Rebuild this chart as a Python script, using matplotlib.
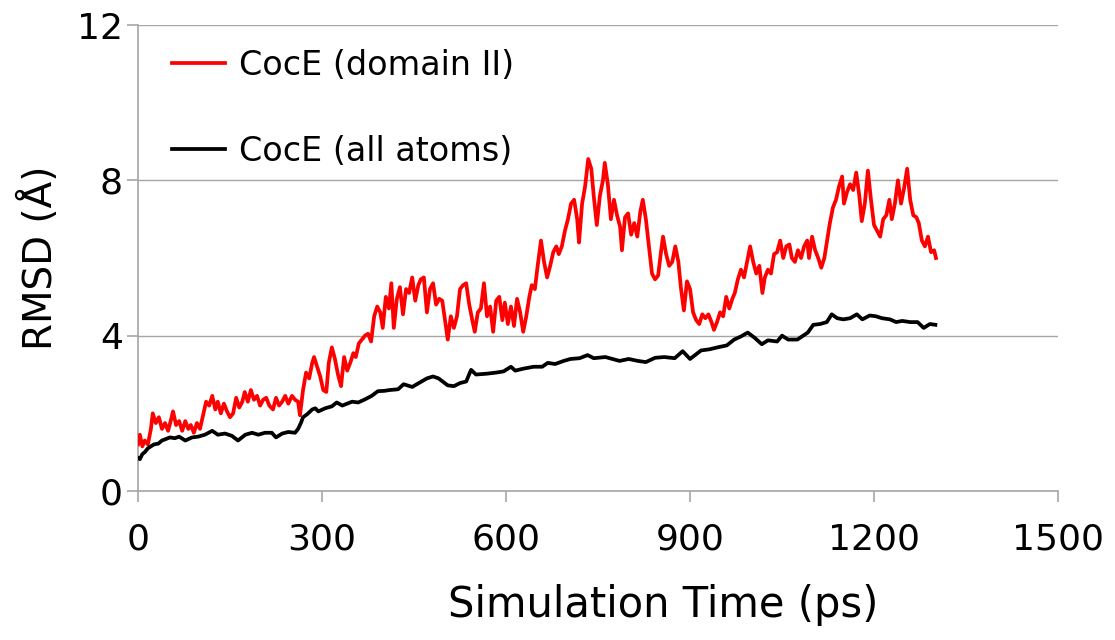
import matplotlib
matplotlib.use("Agg")
import matplotlib.pyplot as plt

plt.rcParams['font.family'] = ['DejaVu Sans']

red_t = [0, 3, 7, 11, 16, 21, 24, 29, 34, 39, 44, 49, 54, 57, 62, 67, 72, 77, 82, 86,
         91, 96, 101, 106, 111, 116, 121, 126, 130, 135, 140, 145, 150, 155, 160, 165,
         170, 174, 179, 184, 189, 194, 199, 204, 209, 214, 220, 225, 230, 235, 240, 245,
         251, 256, 261, 264, 269, 274, 279, 284, 287, 292, 297, 302, 307, 311, 316, 321,
         326, 331, 336, 341, 346, 351, 355, 360, 365, 370, 375, 380, 385, 390, 395, 399,
         404, 409, 413, 417, 422, 427, 432, 437, 442, 447, 452, 457, 461, 466, 471, 476,
         481, 486, 491, 496, 501, 505, 510, 515, 520, 525, 530, 535, 540, 545, 549, 554,
         559, 564, 569, 574, 579, 584, 589, 594, 598, 603, 608, 613, 618, 623, 628, 633,
         638, 642, 647, 652, 657, 662, 667, 672, 677, 682, 686, 691, 696, 701, 706, 711,
         716, 719, 724, 729, 734, 739, 743, 748, 753, 758, 761, 766, 771, 776, 781, 786,
         789, 794, 799, 804, 809, 814, 819, 823, 828, 833, 838, 843, 848, 853, 856, 861,
         866, 871, 876, 881, 885, 890, 895, 900, 905, 910, 915, 920, 925, 930, 935, 939,
         944, 949, 954, 959, 964, 969, 973, 978, 983, 988, 993, 998, 1003, 1008, 1013,
         1018, 1022, 1027, 1032, 1037, 1042, 1047, 1052, 1057, 1062, 1066, 1071, 1076,
         1081, 1086, 1091, 1094, 1099, 1104, 1109, 1114, 1119, 1123, 1128, 1133, 1138,
         1143, 1148, 1151, 1156, 1161, 1166, 1171, 1176, 1180, 1185, 1190, 1195, 1200,
         1205, 1210, 1215, 1220, 1225, 1229, 1234, 1239, 1244, 1249, 1254, 1259, 1264,
         1269, 1273, 1278, 1283, 1288, 1293, 1298, 1301]
red_v = [1.2, 1.45, 1.15, 1.3, 1.2, 1.6, 2.0, 1.75, 1.9, 1.6, 1.75, 1.55, 1.85, 2.05, 1.7,
         1.8, 1.55, 1.8, 1.6, 1.7, 1.5, 1.75, 1.6, 1.95, 2.3, 2.2, 2.45, 2.1, 2.3, 2.0,
         2.25, 2.05, 1.9, 2.0, 2.4, 2.15, 2.3, 2.55, 2.3, 2.6, 2.35, 2.45, 2.2, 2.35, 2.4,
         2.2, 2.1, 2.4, 2.2, 2.3, 2.45, 2.25, 2.45, 2.35, 2.3, 1.95, 2.6, 3.05, 2.9, 3.3,
         3.45, 3.2, 2.95, 2.6, 2.55, 3.3, 3.7, 3.4, 3.0, 2.7, 3.45, 3.1, 3.3, 3.55, 3.45,
         3.8, 3.9, 4.0, 4.05, 3.85, 4.5, 4.75, 4.6, 4.2, 5.0, 4.7, 5.35, 4.2, 4.95, 5.25,
         4.55, 5.2, 5.1, 5.5, 4.9, 5.3, 5.45, 5.5, 4.6, 5.2, 5.35, 4.8, 4.95, 4.9, 4.35,
         3.9, 4.5, 4.2, 4.5, 5.2, 5.3, 5.35, 4.8, 4.4, 4.1, 4.6, 4.7, 5.35, 4.5, 4.75, 4.1,
         4.9, 5.0, 4.4, 4.85, 4.3, 4.75, 4.25, 4.95, 4.6, 4.1, 4.5, 5.0, 5.3, 5.2, 5.85,
         6.45, 5.9, 5.5, 5.8, 6.15, 6.3, 6.1, 6.3, 6.7, 7.0, 7.4, 7.5, 7.0, 6.4, 7.4, 7.85,
         8.55, 8.3, 7.6, 6.85, 7.6, 8.0, 8.45, 7.9, 7.0, 7.5, 7.1, 6.8, 6.2, 7.05, 7.15,
         6.6, 6.9, 6.55, 7.2, 7.5, 7.0, 6.3, 5.6, 5.45, 5.55, 6.2, 6.55, 6.1, 5.8, 5.9, 6.3,
         5.9, 5.25, 4.65, 5.4, 5.2, 4.6, 4.4, 4.3, 4.55, 4.45, 4.55, 4.35, 4.15, 4.35, 4.6,
         4.5, 5.0, 4.7, 4.95, 5.1, 5.45, 5.7, 5.5, 5.9, 6.3, 5.9, 5.6, 5.8, 5.1, 5.5, 5.7,
         5.6, 6.1, 6.15, 6.45, 6.0, 6.3, 6.35, 6.0, 5.9, 6.2, 6.0, 6.3, 6.45, 6.0, 6.55,
         6.2, 6.0, 5.75, 6.0, 6.4, 6.9, 7.3, 7.5, 7.85, 8.1, 7.4, 7.7, 7.9, 7.75, 8.2, 7.6,
         6.95, 7.4, 8.25, 7.5, 6.85, 6.7, 6.55, 7.0, 7.1, 7.5, 7.0, 7.4, 8.0, 7.4, 7.8,
         8.3, 7.5, 7.1, 7.05, 6.9, 6.45, 6.3, 6.55, 6.15, 6.2, 6.0]

black_t = [0, 3, 7, 11, 16, 21, 26, 33, 39, 44, 52, 60, 67, 77, 88, 98, 109, 121, 130,
           142, 153, 163, 175, 186, 196, 207, 218, 225, 235, 245, 256, 261, 266, 269, 276,
           284, 289, 294, 305, 316, 324, 333, 349, 359, 370, 381, 391, 402, 410, 424, 433,
           447, 460, 471, 481, 490, 505, 515, 525, 535, 543, 551, 568, 584, 596, 608, 615,
           628, 645, 659, 668, 680, 694, 705, 720, 733, 743, 762, 785, 800, 815, 828, 843,
           858, 875, 888, 900, 918, 932, 945, 960, 972, 983, 994, 1005, 1017, 1027, 1042,
           1050, 1060, 1075, 1092, 1101, 1112, 1123, 1131, 1140, 1150, 1161, 1172, 1181,
           1193, 1203, 1213, 1226, 1236, 1246, 1259, 1271, 1281, 1291, 1300]
black_v = [0.85, 0.82, 0.95, 1.0, 1.1, 1.15, 1.2, 1.22, 1.3, 1.33, 1.38, 1.36, 1.4, 1.3,
           1.38, 1.4, 1.45, 1.55, 1.45, 1.48, 1.42, 1.3, 1.45, 1.5, 1.45, 1.5, 1.5, 1.38,
           1.48, 1.52, 1.5, 1.6, 1.77, 1.9, 1.98, 2.1, 2.13, 2.05, 2.13, 2.18, 2.28, 2.2,
           2.3, 2.28, 2.36, 2.45, 2.57, 2.58, 2.6, 2.62, 2.75, 2.68, 2.8, 2.9, 2.95, 2.9,
           2.72, 2.7, 2.78, 2.82, 3.12, 3.0, 3.02, 3.05, 3.08, 3.2, 3.1, 3.15, 3.2, 3.2, 3.3,
           3.27, 3.35, 3.4, 3.42, 3.5, 3.42, 3.45, 3.35, 3.4, 3.35, 3.32, 3.43, 3.45, 3.42,
           3.6, 3.4, 3.62, 3.65, 3.7, 3.75, 3.9, 3.98, 4.08, 3.95, 3.78, 3.88, 3.85, 4.0,
           3.9, 3.9, 4.08, 4.28, 4.3, 4.35, 4.55, 4.45, 4.42, 4.45, 4.55, 4.42, 4.52, 4.5,
           4.45, 4.42, 4.35, 4.38, 4.35, 4.35, 4.2, 4.3, 4.28]

x_ticks = [0, 300, 600, 900, 1200, 1500]
y_ticks = [0, 4, 8, 12]
series_labels = ['CocE (domain II)', 'CocE (all atoms)']

fig = plt.figure(figsize=(11.15, 6.4), dpi=100)
ax = fig.add_axes([0.1238, 0.2328, 0.8251, 0.7281])

gray = '#a6a6a6'
ax.plot(red_t, red_v, color='#ff0000', lw=2.7, label=series_labels[0], zorder=3)
ax.plot(black_t, black_v, color='#000000', lw=2.7, label=series_labels[1], zorder=3)

ax.set_xlim(0, 1500)
ax.set_ylim(0, 12)
ax.set_xticks(x_ticks)
ax.set_yticks(y_ticks)
ax.set_xticklabels([str(v) for v in x_ticks])
ax.set_yticklabels([str(v) for v in y_ticks])
ax.grid(axis='y', color=gray, lw=1.0)
ax.set_axisbelow(True)
for s in ['top', 'right']:
    ax.spines[s].set_visible(False)
for s in ['left', 'bottom']:
    ax.spines[s].set_color(gray)
    ax.spines[s].set_linewidth(1.2)
ax.tick_params(axis='both', colors=gray, labelcolor='black', labelsize=26,
               length=8, width=1.2)
ax.tick_params(axis='x', pad=15)
ax.tick_params(axis='y', pad=3)

ax.set_xlabel('Simulation Time (ps)', fontsize=30, va='center')
ax.xaxis.set_label_coords(0.571, -0.245)
ax.set_ylabel('RMSD (Å)', fontsize=28, labelpad=12)

leg = ax.legend(loc='upper left', bbox_to_anchor=(0.037, 0.949), frameon=False,
                borderpad=0, borderaxespad=0,
                fontsize=24, handlelength=1.6, handletextpad=0.4, labelspacing=1.6)
for line in leg.get_lines():
    line.set_linewidth(2.7)

fig.savefig('out.png', dpi=100)
